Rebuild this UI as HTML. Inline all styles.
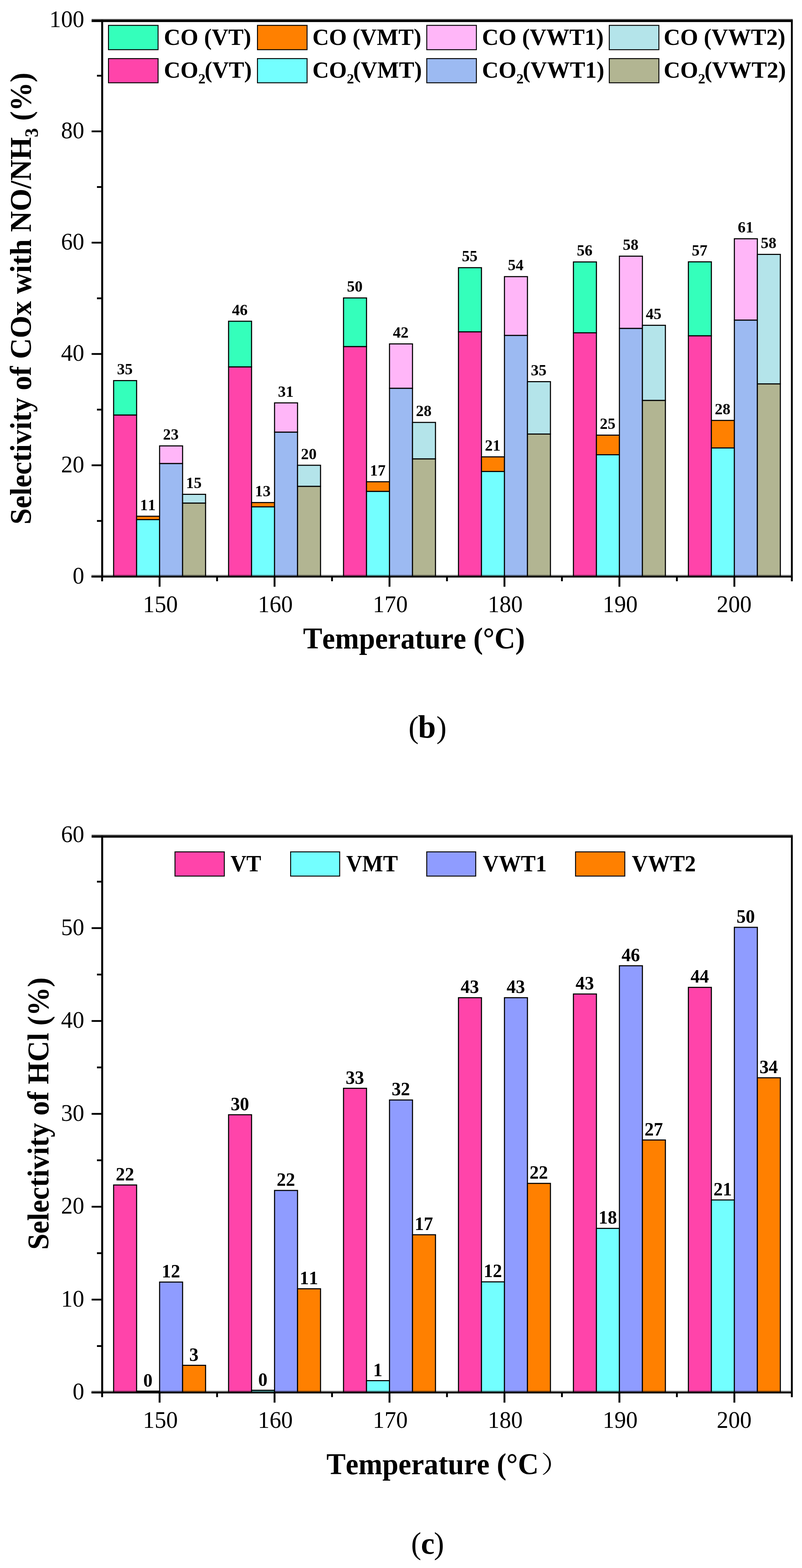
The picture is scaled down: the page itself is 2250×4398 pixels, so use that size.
<!DOCTYPE html>
<html><head><meta charset="utf-8"><title>Selectivity of COx and HCl</title>
<style>
html,body{margin:0;padding:0;background:#fff;}
body{width:2250px;height:4398px;overflow:hidden;}
svg{display:block;}
text{font-family:'Liberation Serif', 'Times New Roman', serif;fill:#000;font-kerning:none;}
.tl{font-size:68px;}
.lg{font-size:65.5px;font-weight:bold;}
.lg2{font-size:65.8px;font-weight:bold;}
.sub{font-size:41px;}
.sub2{font-size:53.4px;}
.at{font-size:84px;font-weight:bold;}
.bl1{font-size:44px;font-weight:bold;}
.bl2{font-size:52.8px;font-weight:bold;}
.pl{font-size:86px;}
.pb{font-weight:bold;font-size:90px;}
.pc{font-weight:bold;font-size:86px;}
.cjk{font-family:'Liberation Serif','Noto Serif CJK SC',serif;font-size:66.5px;font-weight:normal;}
</style></head>
<body>
<svg width="2250" height="4398" viewBox="0 0 2250 4398">
<rect width="2250" height="4398" fill="#fff"/>
<g id="chart-b">
<rect x="318.75" y="1164" width="64.5" height="453.25" fill="#FF44AA" stroke="#000" stroke-width="3"/>
<rect x="318.75" y="1067.5" width="64.5" height="96.5" fill="#34FFBB" stroke="#000" stroke-width="3"/>
<rect x="383.25" y="1457.5" width="64.5" height="159.75" fill="#73FFFF" stroke="#000" stroke-width="3"/>
<rect x="383.25" y="1448" width="64.5" height="9.5" fill="#FF8000" stroke="#000" stroke-width="3"/>
<rect x="447.75" y="1300" width="64.5" height="317.25" fill="#9CBAF2" stroke="#000" stroke-width="3"/>
<rect x="447.75" y="1250.7" width="64.5" height="49.3" fill="#FFB6F8" stroke="#000" stroke-width="3"/>
<rect x="512.25" y="1411" width="64.5" height="206.25" fill="#B2B592" stroke="#000" stroke-width="3"/>
<rect x="512.25" y="1386.5" width="64.5" height="24.5" fill="#B4E4EA" stroke="#000" stroke-width="3"/>
<rect x="641.25" y="1029" width="64.5" height="588.25" fill="#FF44AA" stroke="#000" stroke-width="3"/>
<rect x="641.25" y="901" width="64.5" height="128" fill="#34FFBB" stroke="#000" stroke-width="3"/>
<rect x="705.75" y="1421.6" width="64.5" height="195.65" fill="#73FFFF" stroke="#000" stroke-width="3"/>
<rect x="705.75" y="1409.6" width="64.5" height="12" fill="#FF8000" stroke="#000" stroke-width="3"/>
<rect x="770.25" y="1212" width="64.5" height="405.25" fill="#9CBAF2" stroke="#000" stroke-width="3"/>
<rect x="770.25" y="1130" width="64.5" height="82" fill="#FFB6F8" stroke="#000" stroke-width="3"/>
<rect x="834.75" y="1364" width="64.5" height="253.25" fill="#B2B592" stroke="#000" stroke-width="3"/>
<rect x="834.75" y="1305" width="64.5" height="59" fill="#B4E4EA" stroke="#000" stroke-width="3"/>
<rect x="963.75" y="972" width="64.5" height="645.25" fill="#FF44AA" stroke="#000" stroke-width="3"/>
<rect x="963.75" y="835.7" width="64.5" height="136.3" fill="#34FFBB" stroke="#000" stroke-width="3"/>
<rect x="1028.25" y="1378.2" width="64.5" height="239.05" fill="#73FFFF" stroke="#000" stroke-width="3"/>
<rect x="1028.25" y="1351.2" width="64.5" height="27" fill="#FF8000" stroke="#000" stroke-width="3"/>
<rect x="1092.75" y="1089" width="64.5" height="528.25" fill="#9CBAF2" stroke="#000" stroke-width="3"/>
<rect x="1092.75" y="964.6" width="64.5" height="124.4" fill="#FFB6F8" stroke="#000" stroke-width="3"/>
<rect x="1157.25" y="1287" width="64.5" height="330.25" fill="#B2B592" stroke="#000" stroke-width="3"/>
<rect x="1157.25" y="1184.8" width="64.5" height="102.2" fill="#B4E4EA" stroke="#000" stroke-width="3"/>
<rect x="1286.25" y="930.7" width="64.5" height="686.55" fill="#FF44AA" stroke="#000" stroke-width="3"/>
<rect x="1286.25" y="750.8" width="64.5" height="179.9" fill="#34FFBB" stroke="#000" stroke-width="3"/>
<rect x="1350.75" y="1322.4" width="64.5" height="294.85" fill="#73FFFF" stroke="#000" stroke-width="3"/>
<rect x="1350.75" y="1281.4" width="64.5" height="41" fill="#FF8000" stroke="#000" stroke-width="3"/>
<rect x="1415.25" y="940.7" width="64.5" height="676.55" fill="#9CBAF2" stroke="#000" stroke-width="3"/>
<rect x="1415.25" y="775.9" width="64.5" height="164.8" fill="#FFB6F8" stroke="#000" stroke-width="3"/>
<rect x="1479.75" y="1217.4" width="64.5" height="399.85" fill="#B2B592" stroke="#000" stroke-width="3"/>
<rect x="1479.75" y="1070.5" width="64.5" height="146.9" fill="#B4E4EA" stroke="#000" stroke-width="3"/>
<rect x="1608.75" y="933.5" width="64.5" height="683.75" fill="#FF44AA" stroke="#000" stroke-width="3"/>
<rect x="1608.75" y="734.7" width="64.5" height="198.8" fill="#34FFBB" stroke="#000" stroke-width="3"/>
<rect x="1673.25" y="1275.5" width="64.5" height="341.75" fill="#73FFFF" stroke="#000" stroke-width="3"/>
<rect x="1673.25" y="1220.5" width="64.5" height="55" fill="#FF8000" stroke="#000" stroke-width="3"/>
<rect x="1737.75" y="921" width="64.5" height="696.25" fill="#9CBAF2" stroke="#000" stroke-width="3"/>
<rect x="1737.75" y="718.5" width="64.5" height="202.5" fill="#FFB6F8" stroke="#000" stroke-width="3"/>
<rect x="1802.25" y="1123" width="64.5" height="494.25" fill="#B2B592" stroke="#000" stroke-width="3"/>
<rect x="1802.25" y="912.4" width="64.5" height="210.6" fill="#B4E4EA" stroke="#000" stroke-width="3"/>
<rect x="1931.25" y="941.8" width="64.5" height="675.45" fill="#FF44AA" stroke="#000" stroke-width="3"/>
<rect x="1931.25" y="734.4" width="64.5" height="207.4" fill="#34FFBB" stroke="#000" stroke-width="3"/>
<rect x="1995.75" y="1256.4" width="64.5" height="360.85" fill="#73FFFF" stroke="#000" stroke-width="3"/>
<rect x="1995.75" y="1179.2" width="64.5" height="77.2" fill="#FF8000" stroke="#000" stroke-width="3"/>
<rect x="2060.25" y="897.8" width="64.5" height="719.45" fill="#9CBAF2" stroke="#000" stroke-width="3"/>
<rect x="2060.25" y="669.7" width="64.5" height="228.1" fill="#FFB6F8" stroke="#000" stroke-width="3"/>
<rect x="2124.75" y="1076.7" width="64.5" height="540.55" fill="#B2B592" stroke="#000" stroke-width="3"/>
<rect x="2124.75" y="713.5" width="64.5" height="363.2" fill="#B4E4EA" stroke="#000" stroke-width="3"/>
<text transform="translate(350.2,1050)" class="bl1" text-anchor="middle">35</text>
<text transform="translate(414.7,1430.5)" class="bl1" text-anchor="middle">11</text>
<text transform="translate(479.2,1233.2)" class="bl1" text-anchor="middle">23</text>
<text transform="translate(543.7,1369)" class="bl1" text-anchor="middle">15</text>
<text transform="translate(672.7,883.5)" class="bl1" text-anchor="middle">46</text>
<text transform="translate(737.2,1392.1)" class="bl1" text-anchor="middle">13</text>
<text transform="translate(801.7,1112.5)" class="bl1" text-anchor="middle">31</text>
<text transform="translate(866.2,1287.5)" class="bl1" text-anchor="middle">20</text>
<text transform="translate(995.2,818.2)" class="bl1" text-anchor="middle">50</text>
<text transform="translate(1059.7,1333.7)" class="bl1" text-anchor="middle">17</text>
<text transform="translate(1124.2,947.1)" class="bl1" text-anchor="middle">42</text>
<text transform="translate(1188.7,1167.3)" class="bl1" text-anchor="middle">28</text>
<text transform="translate(1317.7,733.3)" class="bl1" text-anchor="middle">55</text>
<text transform="translate(1382.2,1263.9)" class="bl1" text-anchor="middle">21</text>
<text transform="translate(1446.7,758.4)" class="bl1" text-anchor="middle">54</text>
<text transform="translate(1511.2,1053)" class="bl1" text-anchor="middle">35</text>
<text transform="translate(1640.2,717.2)" class="bl1" text-anchor="middle">56</text>
<text transform="translate(1704.7,1203)" class="bl1" text-anchor="middle">25</text>
<text transform="translate(1769.2,701)" class="bl1" text-anchor="middle">58</text>
<text transform="translate(1833.7,894.9)" class="bl1" text-anchor="middle">45</text>
<text transform="translate(1962.7,716.9)" class="bl1" text-anchor="middle">57</text>
<text transform="translate(2027.2,1161.7)" class="bl1" text-anchor="middle">28</text>
<text transform="translate(2091.7,652.2)" class="bl1" text-anchor="middle">61</text>
<text transform="translate(2156.2,696)" class="bl1" text-anchor="middle">58</text>
<rect x="289.1" y="61.8" width="2.4" height="1555.45" fill="#dcdcdc"/>
<rect x="256.5" y="1611.95" width="1965" height="2.8" fill="#000" fill-opacity="0.33"/>
<rect x="283.9" y="55.6" width="5.2" height="1574.65" fill="#000"/>
<rect x="2218.9" y="55.6" width="5.2" height="1574.65" fill="#000"/>
<rect x="257" y="53.3" width="1967.1" height="2.3" fill="#4a4a4a"/>
<rect x="257" y="55.6" width="1967.1" height="6.2" fill="#000"/>
<rect x="256.5" y="1614.75" width="1967.6" height="5.1" fill="#000"/>
<rect x="257" y="1614.75" width="29.5" height="5" fill="#000"/>
<text transform="translate(236.5,1636.75) scale(0.96,1)" class="tl" text-anchor="end">0</text>
<rect x="272" y="1458.65" width="14.5" height="5" fill="#000"/>
<rect x="257" y="1302.55" width="29.5" height="5" fill="#000"/>
<text transform="translate(236.5,1324.55) scale(0.96,1)" class="tl" text-anchor="end">20</text>
<rect x="272" y="1146.45" width="14.5" height="5" fill="#000"/>
<rect x="257" y="990.35" width="29.5" height="5" fill="#000"/>
<text transform="translate(236.5,1012.35) scale(0.96,1)" class="tl" text-anchor="end">40</text>
<rect x="272" y="834.25" width="14.5" height="5" fill="#000"/>
<rect x="257" y="678.15" width="29.5" height="5" fill="#000"/>
<text transform="translate(236.5,700.15) scale(0.96,1)" class="tl" text-anchor="end">60</text>
<rect x="272" y="522.05" width="14.5" height="5" fill="#000"/>
<rect x="257" y="365.95" width="29.5" height="5" fill="#000"/>
<text transform="translate(236.5,387.95) scale(0.96,1)" class="tl" text-anchor="end">80</text>
<rect x="272" y="209.85" width="14.5" height="5" fill="#000"/>
<text transform="translate(236.5,75.75) scale(0.96,1)" class="tl" text-anchor="end">100</text>
<rect x="283.9" y="1617.25" width="5.2" height="13" fill="#000"/>
<rect x="445.15" y="1617.25" width="5.2" height="28.5" fill="#000"/>
<rect x="606.4" y="1617.25" width="5.2" height="13" fill="#000"/>
<rect x="767.65" y="1617.25" width="5.2" height="28.5" fill="#000"/>
<rect x="928.9" y="1617.25" width="5.2" height="13" fill="#000"/>
<rect x="1090.15" y="1617.25" width="5.2" height="28.5" fill="#000"/>
<rect x="1251.4" y="1617.25" width="5.2" height="13" fill="#000"/>
<rect x="1412.65" y="1617.25" width="5.2" height="28.5" fill="#000"/>
<rect x="1573.9" y="1617.25" width="5.2" height="13" fill="#000"/>
<rect x="1735.15" y="1617.25" width="5.2" height="28.5" fill="#000"/>
<rect x="1896.4" y="1617.25" width="5.2" height="13" fill="#000"/>
<rect x="2057.65" y="1617.25" width="5.2" height="28.5" fill="#000"/>
<rect x="2218.9" y="1617.25" width="5.2" height="13" fill="#000"/>
<text transform="translate(449.95,1717.3) scale(0.96,1)" class="tl" text-anchor="middle">150</text>
<text transform="translate(772.45,1717.3) scale(0.96,1)" class="tl" text-anchor="middle">160</text>
<text transform="translate(1094.95,1717.3) scale(0.96,1)" class="tl" text-anchor="middle">170</text>
<text transform="translate(1417.45,1717.3) scale(0.96,1)" class="tl" text-anchor="middle">180</text>
<text transform="translate(1739.95,1717.3) scale(0.96,1)" class="tl" text-anchor="middle">190</text>
<text transform="translate(2059.75,1717.3) scale(0.96,1)" class="tl" text-anchor="middle">200</text>
<rect x="304.3" y="71.1" width="139.2" height="68.3" fill="#34FFBB" stroke="#000" stroke-width="2.6"/>
<rect x="304.3" y="164.3" width="139.2" height="67.9" fill="#FF44AA" stroke="#000" stroke-width="2.6"/>
<text transform="translate(459.8,126.2) scale(0.983,1)" class="lg">CO (VT)</text>
<text transform="translate(459.8,217.5) scale(0.983,1)" class="lg">CO<tspan class="sub" dy="16">2</tspan><tspan dy="-16" dx="-2.5">(VT)</tspan></text>
<rect x="722.3" y="71.1" width="139.2" height="68.3" fill="#FF8000" stroke="#000" stroke-width="2.6"/>
<rect x="722.3" y="164.3" width="139.2" height="67.9" fill="#73FFFF" stroke="#000" stroke-width="2.6"/>
<text transform="translate(876.4,126.2) scale(0.983,1)" class="lg">CO (VMT)</text>
<text transform="translate(876.4,217.5) scale(0.983,1)" class="lg">CO<tspan class="sub" dy="16">2</tspan><tspan dy="-16" dx="-2.5">(VMT)</tspan></text>
<rect x="1197.3" y="71.1" width="139.2" height="68.3" fill="#FFB6F8" stroke="#000" stroke-width="2.6"/>
<rect x="1197.3" y="164.3" width="139.2" height="67.9" fill="#9CBAF2" stroke="#000" stroke-width="2.6"/>
<text transform="translate(1352.2,126.2) scale(0.983,1)" class="lg">CO (VWT1)</text>
<text transform="translate(1352.2,217.5) scale(0.983,1)" class="lg">CO<tspan class="sub" dy="16">2</tspan><tspan dy="-16" dx="-2.5">(VWT1)</tspan></text>
<rect x="1709.3" y="71.1" width="139.2" height="68.3" fill="#B4E4EA" stroke="#000" stroke-width="2.6"/>
<rect x="1709.3" y="164.3" width="139.2" height="67.9" fill="#B2B592" stroke="#000" stroke-width="2.6"/>
<text transform="translate(1861.9,126.2) scale(0.983,1)" class="lg">CO (VWT2)</text>
<text transform="translate(1861.9,217.5) scale(0.983,1)" class="lg">CO<tspan class="sub" dy="16">2</tspan><tspan dy="-16" dx="-2.5">(VWT2)</tspan></text>
<text transform="translate(86.7,1471.1) rotate(-90) scale(0.966,1)" class="at">Selectivity of COx with NO/NH<tspan class="sub2" dy="19.5">3</tspan><tspan dy="-19.5"> (%)</tspan></text>
<text transform="translate(850.2,1819) scale(0.962,1)" class="at">Temperature (°C)</text>
<text class="pl" y="2069"><tspan class="pr" x="1146">(</tspan><tspan class="pb" x="1172.8">b</tspan><tspan class="pr" x="1224.2">)</tspan></text>
</g>
<g id="chart-c">
<rect x="318.75" y="3323.7" width="64.5" height="582" fill="#FF44AA" stroke="#000" stroke-width="3"/>
<rect x="383.25" y="3902" width="64.5" height="3.7" fill="#73FFFF" stroke="#000" stroke-width="3"/>
<rect x="447.75" y="3596" width="64.5" height="309.7" fill="#8F9CFF" stroke="#000" stroke-width="3"/>
<rect x="512.25" y="3829.5" width="64.5" height="76.2" fill="#FF8000" stroke="#000" stroke-width="3"/>
<rect x="641.25" y="3126.7" width="64.5" height="779" fill="#FF44AA" stroke="#000" stroke-width="3"/>
<rect x="705.75" y="3899.5" width="64.5" height="6.2" fill="#73FFFF" stroke="#000" stroke-width="3"/>
<rect x="770.25" y="3339" width="64.5" height="566.7" fill="#8F9CFF" stroke="#000" stroke-width="3"/>
<rect x="834.75" y="3614.8" width="64.5" height="290.9" fill="#FF8000" stroke="#000" stroke-width="3"/>
<rect x="963.75" y="3052.5" width="64.5" height="853.2" fill="#FF44AA" stroke="#000" stroke-width="3"/>
<rect x="1028.25" y="3872.5" width="64.5" height="33.2" fill="#73FFFF" stroke="#000" stroke-width="3"/>
<rect x="1092.75" y="3085.3" width="64.5" height="820.4" fill="#8F9CFF" stroke="#000" stroke-width="3"/>
<rect x="1157.25" y="3463.3" width="64.5" height="442.4" fill="#FF8000" stroke="#000" stroke-width="3"/>
<rect x="1286.25" y="2798.4" width="64.5" height="1107.3" fill="#FF44AA" stroke="#000" stroke-width="3"/>
<rect x="1350.75" y="3595.4" width="64.5" height="310.3" fill="#73FFFF" stroke="#000" stroke-width="3"/>
<rect x="1415.25" y="2798.4" width="64.5" height="1107.3" fill="#8F9CFF" stroke="#000" stroke-width="3"/>
<rect x="1479.75" y="3319.2" width="64.5" height="586.5" fill="#FF8000" stroke="#000" stroke-width="3"/>
<rect x="1608.75" y="2788" width="64.5" height="1117.7" fill="#FF44AA" stroke="#000" stroke-width="3"/>
<rect x="1673.25" y="3445.4" width="64.5" height="460.3" fill="#73FFFF" stroke="#000" stroke-width="3"/>
<rect x="1737.75" y="2708.8" width="64.5" height="1196.9" fill="#8F9CFF" stroke="#000" stroke-width="3"/>
<rect x="1802.25" y="3197.5" width="64.5" height="708.2" fill="#FF8000" stroke="#000" stroke-width="3"/>
<rect x="1931.25" y="2769.4" width="64.5" height="1136.3" fill="#FF44AA" stroke="#000" stroke-width="3"/>
<rect x="1995.75" y="3365.7" width="64.5" height="540" fill="#73FFFF" stroke="#000" stroke-width="3"/>
<rect x="2060.25" y="2601" width="64.5" height="1304.7" fill="#8F9CFF" stroke="#000" stroke-width="3"/>
<rect x="2124.75" y="3023" width="64.5" height="882.7" fill="#FF8000" stroke="#000" stroke-width="3"/>
<text transform="translate(350.5,3310.7) scale(0.98,1)" class="bl2" text-anchor="middle">22</text>
<text transform="translate(415,3889) scale(0.98,1)" class="bl2" text-anchor="middle">0</text>
<text transform="translate(479.5,3583) scale(0.98,1)" class="bl2" text-anchor="middle">12</text>
<text transform="translate(544,3816.5) scale(0.98,1)" class="bl2" text-anchor="middle">3</text>
<text transform="translate(673,3113.7) scale(0.98,1)" class="bl2" text-anchor="middle">30</text>
<text transform="translate(737.5,3886.5) scale(0.98,1)" class="bl2" text-anchor="middle">0</text>
<text transform="translate(802,3326) scale(0.98,1)" class="bl2" text-anchor="middle">22</text>
<text transform="translate(866.5,3601.8) scale(0.98,1)" class="bl2" text-anchor="middle">11</text>
<text transform="translate(995.5,3039.5) scale(0.98,1)" class="bl2" text-anchor="middle">33</text>
<text transform="translate(1060,3859.5) scale(0.98,1)" class="bl2" text-anchor="middle">1</text>
<text transform="translate(1124.5,3072.3) scale(0.98,1)" class="bl2" text-anchor="middle">32</text>
<text transform="translate(1189,3450.3) scale(0.98,1)" class="bl2" text-anchor="middle">17</text>
<text transform="translate(1318,2785.4) scale(0.98,1)" class="bl2" text-anchor="middle">43</text>
<text transform="translate(1382.5,3582.4) scale(0.98,1)" class="bl2" text-anchor="middle">12</text>
<text transform="translate(1447,2785.4) scale(0.98,1)" class="bl2" text-anchor="middle">43</text>
<text transform="translate(1511.5,3306.2) scale(0.98,1)" class="bl2" text-anchor="middle">22</text>
<text transform="translate(1640.5,2775) scale(0.98,1)" class="bl2" text-anchor="middle">43</text>
<text transform="translate(1705,3432.4) scale(0.98,1)" class="bl2" text-anchor="middle">18</text>
<text transform="translate(1769.5,2695.8) scale(0.98,1)" class="bl2" text-anchor="middle">46</text>
<text transform="translate(1834,3184.5) scale(0.98,1)" class="bl2" text-anchor="middle">27</text>
<text transform="translate(1963,2756.4) scale(0.98,1)" class="bl2" text-anchor="middle">44</text>
<text transform="translate(2027.5,3352.7) scale(0.98,1)" class="bl2" text-anchor="middle">21</text>
<text transform="translate(2092,2588) scale(0.98,1)" class="bl2" text-anchor="middle">50</text>
<text transform="translate(2156.5,3010) scale(0.98,1)" class="bl2" text-anchor="middle">34</text>
<rect x="289.1" y="2349.5" width="2.4" height="1556.2" fill="#dcdcdc"/>
<rect x="256.5" y="3900.4" width="1965" height="2.8" fill="#000" fill-opacity="0.33"/>
<rect x="283.9" y="2343.6" width="5.2" height="1575.1" fill="#000"/>
<rect x="2218.9" y="2343.6" width="5.2" height="1575.1" fill="#000"/>
<rect x="257" y="2341.3" width="1967.1" height="2.3" fill="#4a4a4a"/>
<rect x="257" y="2343.6" width="1967.1" height="5.9" fill="#000"/>
<rect x="256.5" y="3903.2" width="1967.6" height="5.1" fill="#000"/>
<rect x="257" y="3903.2" width="29.5" height="5" fill="#000"/>
<text transform="translate(236.5,3925.2) scale(0.96,1)" class="tl" text-anchor="end">0</text>
<rect x="272" y="3772.95" width="14.5" height="5" fill="#000"/>
<rect x="257" y="3642.7" width="29.5" height="5" fill="#000"/>
<text transform="translate(236.5,3664.7) scale(0.96,1)" class="tl" text-anchor="end">10</text>
<rect x="272" y="3512.45" width="14.5" height="5" fill="#000"/>
<rect x="257" y="3382.2" width="29.5" height="5" fill="#000"/>
<text transform="translate(236.5,3404.2) scale(0.96,1)" class="tl" text-anchor="end">20</text>
<rect x="272" y="3251.95" width="14.5" height="5" fill="#000"/>
<rect x="257" y="3121.7" width="29.5" height="5" fill="#000"/>
<text transform="translate(236.5,3143.7) scale(0.96,1)" class="tl" text-anchor="end">30</text>
<rect x="272" y="2991.45" width="14.5" height="5" fill="#000"/>
<rect x="257" y="2861.2" width="29.5" height="5" fill="#000"/>
<text transform="translate(236.5,2883.2) scale(0.96,1)" class="tl" text-anchor="end">40</text>
<rect x="272" y="2730.95" width="14.5" height="5" fill="#000"/>
<rect x="257" y="2600.7" width="29.5" height="5" fill="#000"/>
<text transform="translate(236.5,2622.7) scale(0.96,1)" class="tl" text-anchor="end">50</text>
<rect x="272" y="2470.45" width="14.5" height="5" fill="#000"/>
<text transform="translate(236.5,2362.2) scale(0.96,1)" class="tl" text-anchor="end">60</text>
<rect x="283.9" y="3905.7" width="5.2" height="13" fill="#000"/>
<rect x="445.15" y="3905.7" width="5.2" height="28.5" fill="#000"/>
<rect x="606.4" y="3905.7" width="5.2" height="13" fill="#000"/>
<rect x="767.65" y="3905.7" width="5.2" height="28.5" fill="#000"/>
<rect x="928.9" y="3905.7" width="5.2" height="13" fill="#000"/>
<rect x="1090.15" y="3905.7" width="5.2" height="28.5" fill="#000"/>
<rect x="1251.4" y="3905.7" width="5.2" height="13" fill="#000"/>
<rect x="1412.65" y="3905.7" width="5.2" height="28.5" fill="#000"/>
<rect x="1573.9" y="3905.7" width="5.2" height="13" fill="#000"/>
<rect x="1735.15" y="3905.7" width="5.2" height="28.5" fill="#000"/>
<rect x="1896.4" y="3905.7" width="5.2" height="13" fill="#000"/>
<rect x="2057.65" y="3905.7" width="5.2" height="28.5" fill="#000"/>
<rect x="2218.9" y="3905.7" width="5.2" height="13" fill="#000"/>
<text transform="translate(449.95,4005) scale(0.96,1)" class="tl" text-anchor="middle">150</text>
<text transform="translate(772.45,4005) scale(0.96,1)" class="tl" text-anchor="middle">160</text>
<text transform="translate(1094.95,4005) scale(0.96,1)" class="tl" text-anchor="middle">170</text>
<text transform="translate(1417.45,4005) scale(0.96,1)" class="tl" text-anchor="middle">180</text>
<text transform="translate(1739.95,4005) scale(0.96,1)" class="tl" text-anchor="middle">190</text>
<text transform="translate(2059.75,4005) scale(0.96,1)" class="tl" text-anchor="middle">200</text>
<rect x="490.9" y="2389.3" width="138.4" height="68" fill="#FF44AA" stroke="#000" stroke-width="2.6"/>
<text transform="translate(646.4,2444.3) scale(0.945,1)" class="lg2">VT</text>
<rect x="815.3" y="2389.3" width="137.7" height="68" fill="#73FFFF" stroke="#000" stroke-width="2.6"/>
<text transform="translate(971.2,2444.3) scale(0.945,1)" class="lg2">VMT</text>
<rect x="1197.2" y="2389.3" width="137.5" height="68" fill="#8F9CFF" stroke="#000" stroke-width="2.6"/>
<text transform="translate(1354.3,2444.3) scale(0.945,1)" class="lg2">VWT1</text>
<rect x="1614.7" y="2389.3" width="138.2" height="68" fill="#FF8000" stroke="#000" stroke-width="2.6"/>
<text transform="translate(1772.6,2444.3) scale(0.945,1)" class="lg2">VWT2</text>
<text transform="translate(135.9,3505.3) rotate(-90) scale(0.966,1)" class="at">Selectivity of HCl (%)</text>
<text transform="translate(915.8,4135.1) scale(0.962,1)" class="at">Temperature (°C</text>
<text transform="translate(1517.7,4131.4) scale(1.2,1)" class="cjk">）</text>
<text class="pl" y="4358"><tspan class="pr" x="1153.3">(</tspan><tspan class="pc" x="1180.9">c</tspan><tspan class="pr" x="1217.2">)</tspan></text>
</g>
</svg>
</body></html>
